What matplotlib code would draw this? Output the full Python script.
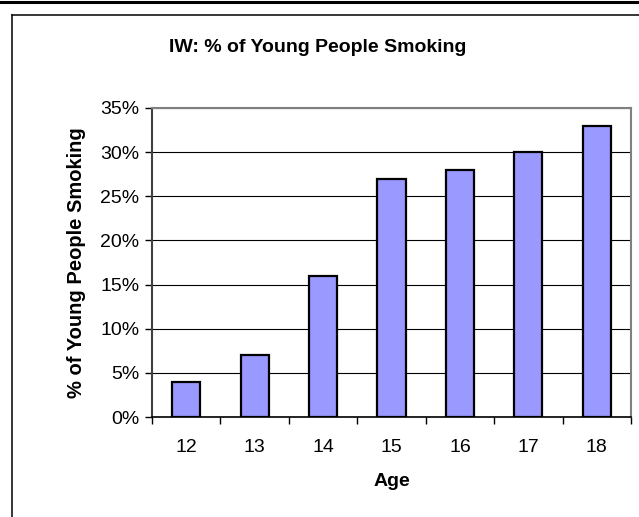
import matplotlib.pyplot as plt
from matplotlib.lines import Line2D
from matplotlib.ticker import FuncFormatter, MultipleLocator

plt.rcParams['font.family'] = ['Liberation Sans', 'DejaVu Sans']

# data
ages = ['12', '13', '14', '15', '16', '17', '18']
pct_smoking = [4, 7, 16, 27, 28, 30, 33]

fig = plt.figure(figsize=(6.39, 5.17), dpi=100)
ax = fig.add_axes([152/639, 1 - 417/517, (631-152)/639, (417-108)/517])

x = range(len(ages))
ax.bar(x, pct_smoking, width=0.41, color='#9999FF', edgecolor='black', linewidth=1.6, zorder=3)

ax.set_xlim(-0.5, len(ages) - 0.5)
ax.set_ylim(0, 35)
ax.yaxis.set_major_locator(MultipleLocator(5))
ax.yaxis.set_major_formatter(FuncFormatter(lambda v, p: '%d%%' % v))
ax.set_xticks(x)
ax.set_xticklabels(ages)
# category boundaries carry the tick marks, labels sit in between
ax.set_xticks([i - 0.5 for i in range(len(ages) + 1)], minor=True)
ax.tick_params(axis='x', which='major', length=0, pad=16, labelsize=14)
ax.tick_params(axis='x', which='minor', length=5, width=1, direction='out', color='black')
ax.tick_params(axis='y', length=5, width=1, direction='out', pad=4, labelsize=14)

ax.grid(axis='y', color='black', linewidth=0.8, zorder=0)
ax.set_axisbelow(True)

for side in ['top', 'right']:
    ax.spines[side].set_color('#808080')
    ax.spines[side].set_linewidth(1.5)
ax.spines['left'].set_color('#404040')
ax.spines['left'].set_linewidth(1.5)
ax.spines['bottom'].set_color('black')
ax.spines['bottom'].set_linewidth(1.2)

ax.set_xlabel('Age', fontsize=14, fontweight='bold', labelpad=12)
ax.set_ylabel('% of Young People Smoking', fontsize=14.5, fontweight='bold', labelpad=10)
fig.text(318/639, 1 - 47/517, 'IW: % of Young People Smoking', ha='center', va='center',
         fontsize=14, fontweight='bold')

# chart frame and heavy rule along the top
W, H = 639, 517
fig.add_artist(Line2D([0, 1], [1 - 1.5/H, 1 - 1.5/H], color='black', linewidth=2.2))
fig.add_artist(Line2D([12/W, 1], [1 - 15/H, 1 - 15/H], color='black', linewidth=1.1))
fig.add_artist(Line2D([12/W, 12/W], [0, 1 - 15/H], color='black', linewidth=1.1))

fig.savefig('out.png', dpi=100)
